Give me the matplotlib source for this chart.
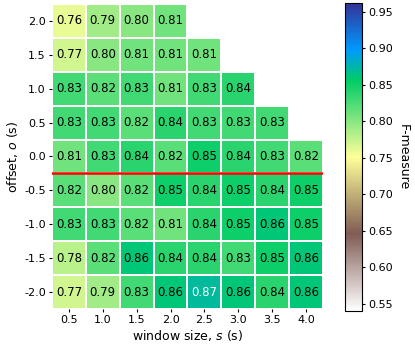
import numpy as np
import matplotlib
matplotlib.use("Agg")
import matplotlib.pyplot as plt

window_sizes = ["0.5", "1.0", "1.5", "2.0", "2.5", "3.0", "3.5", "4.0"]
offsets = ["2.0", "1.5", "1.0", "0.5", "0.0", "-0.5", "-1.0", "-1.5", "-2.0"]
nan = np.nan
row_2_0 = [0.76, 0.79, 0.80, 0.81, nan, nan, nan, nan]
row_1_5 = [0.77, 0.80, 0.81, 0.81, 0.81, nan, nan, nan]
row_1_0 = [0.83, 0.82, 0.83, 0.81, 0.83, 0.84, nan, nan]
row_0_5 = [0.83, 0.83, 0.82, 0.84, 0.83, 0.83, 0.83, nan]
row_0_0 = [0.81, 0.83, 0.84, 0.82, 0.85, 0.84, 0.83, 0.82]
row_m0_5 = [0.82, 0.80, 0.82, 0.85, 0.84, 0.85, 0.84, 0.85]
row_m1_0 = [0.83, 0.83, 0.82, 0.81, 0.84, 0.85, 0.86, 0.85]
row_m1_5 = [0.78, 0.82, 0.86, 0.84, 0.84, 0.83, 0.85, 0.86]
row_m2_0 = [0.77, 0.79, 0.83, 0.86, 0.87, 0.86, 0.84, 0.86]
vmin, vmax = 0.54, 0.962

data = np.array([row_2_0, row_1_5, row_1_0, row_0_5, row_0_0,
                 row_m0_5, row_m1_0, row_m1_5, row_m2_0])
masked = np.ma.masked_invalid(data)

fig = plt.figure(figsize=(4.15, 3.49), dpi=100)
ax = fig.add_axes([0.1253, 0.1146, 0.653, 0.874])
cax = fig.add_axes([0.831, 0.109, 0.041, 0.8825])

cmap = plt.get_cmap("terrain_r")
mesh = ax.pcolormesh(np.arange(len(window_sizes) + 1), np.arange(len(offsets) + 1),
                     masked, cmap=cmap, vmin=vmin, vmax=vmax,
                     edgecolors="white", linewidth=1.1)
ax.set_xlim(0, len(window_sizes))
ax.set_ylim(len(offsets), 0)
for i in range(len(offsets)):
    for j in range(len(window_sizes)):
        v = data[i, j]
        if np.isnan(v):
            continue
        col = "white" if v >= 0.87 else "black"
        ax.text(j + 0.5, i + 0.5, f"{v:.2f}", ha="center", va="center",
                fontsize=8.5, color=col)

zero_idx = offsets.index("0.0")
ax.axhline(zero_idx + 1, color="red", linewidth=1.8)

ax.set_xticks(np.arange(len(window_sizes)) + 0.5)
ax.set_xticklabels(window_sizes)
ax.set_yticks(np.arange(len(offsets)) + 0.5)
ax.set_yticklabels(offsets)
ax.tick_params(length=2.5, width=0.8, labelsize=8, pad=2)
for s in ax.spines.values():
    s.set_visible(False)
ax.set_xlabel("window size, $s$ (s)", fontsize=9, labelpad=2)
ax.set_ylabel("offset, $o$ (s)", fontsize=9, labelpad=3)

cb = fig.colorbar(mesh, cax=cax)
cb.set_ticks([0.55, 0.60, 0.65, 0.70, 0.75, 0.80, 0.85, 0.90, 0.95])
cb.ax.tick_params(labelsize=8, length=2.5, pad=2)
cb.set_label("F-measure", rotation=270, labelpad=12, fontsize=9)

fig.savefig("out.png", dpi=100)
